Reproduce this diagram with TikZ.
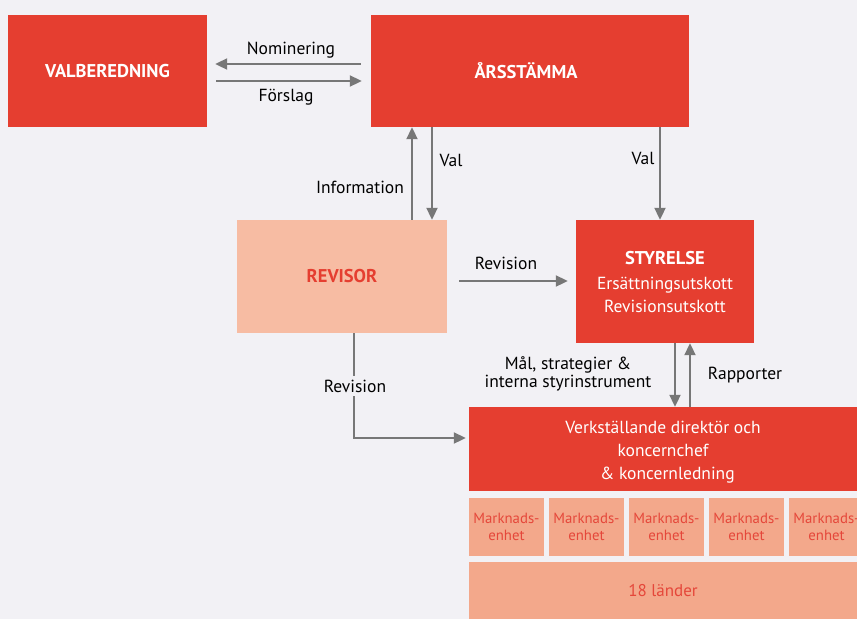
\documentclass[tikz,border=0pt]{standalone}
\usepackage{fontspec}
\setmainfont{PT Sans}
\usetikzlibrary{arrows.meta}
\definecolor{bg}{HTML}{F2F1F5}
\definecolor{rd}{HTML}{E53E30}
\definecolor{lt}{HTML}{F7BCA3}
\definecolor{mk}{HTML}{F3A88B}
\definecolor{mktx}{HTML}{E5473A}
\definecolor{ar}{HTML}{777777}
\tikzset{
  redbox/.style={fill=rd, text=white, inner sep=0pt, align=center, font=\fontsize{17.5}{23}\selectfont},
  headbox/.style={redbox, font=\fontsize{18.5}{22}\selectfont\bfseries},
  ltbox/.style={fill=lt, text=rd, inner sep=0pt, align=center, font=\fontsize{18.5}{22}\selectfont\bfseries},
  mkbox/.style={fill=mk, text=mktx, inner sep=0pt, align=center, font=\fontsize{14.8}{17}\selectfont},
  arr/.style={draw=ar, line width=2pt, -{Triangle[length=12pt,width=11pt]}},
  lbl/.style={text=black, inner sep=1pt, align=center, font=\fontsize{17.5}{18.5}\selectfont}
}
\begin{document}
\begin{tikzpicture}[x=1pt,y=-1pt]
\fill[bg] (0,0) rectangle (857,619);
\useasboundingbox (0,0) rectangle (857,619);
\node[headbox, minimum width=199pt, minimum height=112pt] (valb) at (107.5,71) {VALBEREDNING};
\node[headbox, minimum width=318pt, minimum height=112pt] (arss) at (530,71) {\hspace*{-8pt}ÅRSSTÄMMA};
\node[ltbox, minimum width=210pt, minimum height=113pt] (rev) at (342,276.5) {REVISOR};
\node[redbox, minimum width=178pt, minimum height=123pt] (sty) at (665,281.5) {{\bfseries\fontsize{18.5}{23}\selectfont STYRELSE}\\[2pt]Ersättningsutskott\\Revisionsutskott};
\node[redbox, minimum width=388pt, minimum height=84pt] (vd) at (663,449) {};
\node[redbox, fill=none] (vdtext) at (663,452.5) {Verkställande direktör och\\koncernchef\\\,\,\,\& koncernledning};
\foreach \i/\x in {1/506.5,2/586.5,3/666.5,4/746.5,5/826.5} {
  \node[mkbox, minimum width=75pt, minimum height=58pt] (mk\i) at (\x,527) {Marknads-\\enhet};
}
\node[mkbox, minimum width=388pt, minimum height=57pt, font=\fontsize{17}{18}\selectfont] (land) at (663,590.5) {18 länder};
% arrows
\draw[arr, shorten <=10pt, shorten >=8pt] (arss.west |- 0,64) -- (valb.east |- 0,64);
\draw[arr, shorten <=9pt, shorten >=9pt] (valb.east |- 0,81) -- (arss.west |- 0,81);
\node[lbl] (nom) at (291,50) {Nominering};
\node[lbl] (fors) at (286,97) {Förslag};
\draw[arr] (rev.north -| 412,0) -- (arss.south -| 412,0);
\draw[arr] (arss.south -| 432,0) -- (rev.north -| 432,0);
\node[lbl] (info) at (360,187) {Information};
\node[lbl] (val1) at (451,160) {Val};
\draw[arr] (arss.south -| 660,0) -- (sty.north -| 660,0);
\node[lbl] (val2) at (643,158) {Val};
\draw[arr, shorten <=12pt, shorten >=8pt] (rev.east |- 0,281) -- (sty.west |- 0,281);
\node[lbl] (revl) at (506,263) {Revision};
\draw[arr] (sty.south -| 675,0) -- (vd.north -| 675,0);
\draw[arr] (vd.north -| 690,0) -- (sty.south -| 690,0);
\node[lbl] (mal) at (568,374) {Mål, strategier \&\\interna styrinstrument};
\node[lbl] (rapp) at (745,375) {Rapporter};
\coordinate (corner) at (354,438);
\draw[arr, shorten >=3pt] (rev.south -| corner) -- (corner) -- (vd.west |- corner);
\node[lbl, fill=bg, inner sep=4pt] (rev2) at (355,386) {Revision};
\end{tikzpicture}
\end{document}
